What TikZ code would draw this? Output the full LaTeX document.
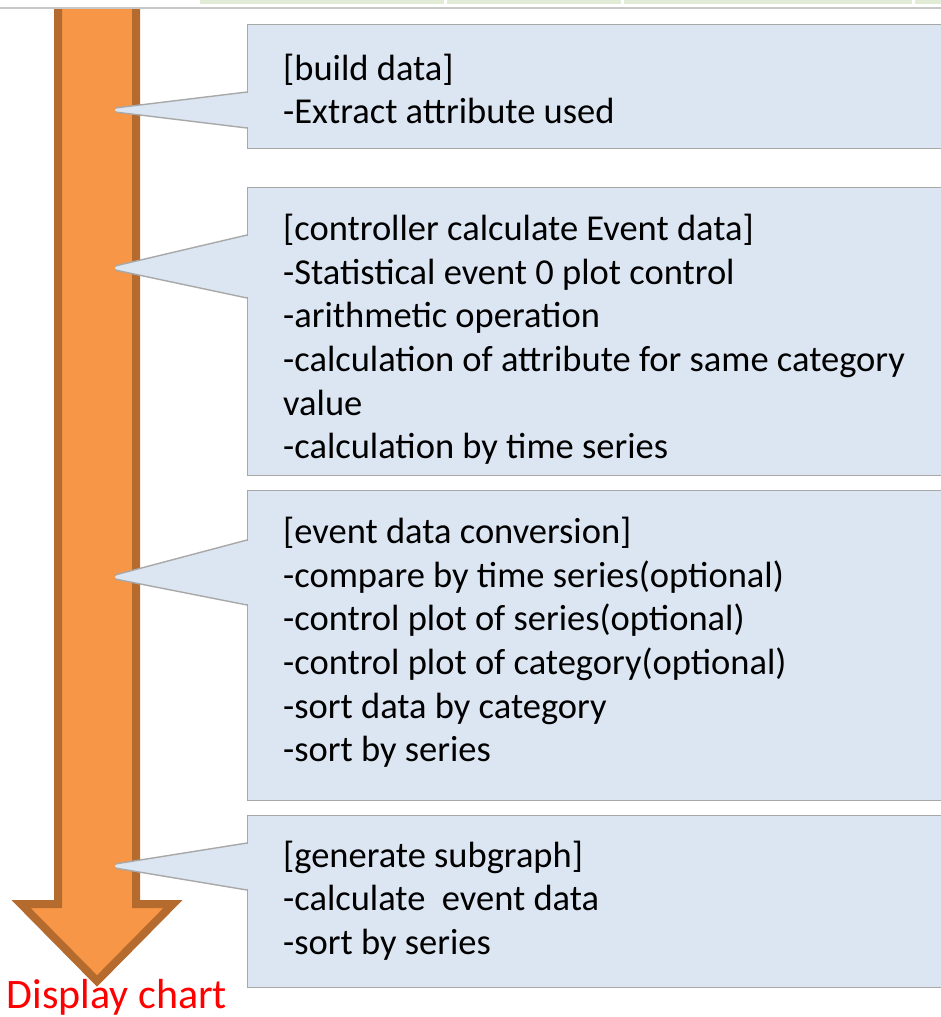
\documentclass[tikz,border=0pt]{standalone}
\usepackage{fontspec}
\setmainfont{Carlito}
\usetikzlibrary{calc}
\definecolor{boxfill}{HTML}{DCE6F2}
\definecolor{boxline}{HTML}{A8A8A8}
\definecolor{arrowfill}{HTML}{F79646}
\definecolor{arrowline}{HTML}{B56A2E}
\definecolor{bandgreen}{HTML}{E2EBD5}
\definecolor{rulegrey}{HTML}{C8C8C8}
\begin{document}
\begin{tikzpicture}[x=1pt,y=-1pt,
  note/.style={fill=boxfill, draw=boxline, line width=1.4pt, anchor=north west,
    minimum width=720pt, inner sep=0pt},
  notetext/.style={anchor=west, align=left, inner sep=0pt, text=black,
    font=\fontsize{36.5}{43.6}\selectfont},
  band/.style={fill=bandgreen},
]
\useasboundingbox (0,0) rectangle (941,1017);
\clip (0,0) rectangle (941,1017);

% header band
\fill[band] (0,0) rectangle (444,4);
\fill[band] (447,0) rectangle (621,4);
\fill[band] (624,0) rectangle (912,4);
\fill[band] (915,0) rectangle (941,4);

% process arrow
\draw[fill=arrowfill, draw=arrowline, line width=8pt, line join=miter]
  (58,-10) -- (136,-10) -- (136,904) -- (173,904) -- (97,981)
  -- (21,904) -- (58,904) -- cycle;
\fill[white] (0,0) rectangle (200,7);
\draw[rulegrey, line width=1.2pt] (0,8) -- (941,8);

% step boxes
\node[note, minimum height=124pt] (b1) at (247,24) {};
\node[note, minimum height=288pt] (b2) at (247,187) {};
\node[note, minimum height=310pt] (b3) at (247,490) {};
\node[note, minimum height=172pt] (b4) at (247,815) {};

% pointer tips on the arrow
\coordinate (p1) at (115,110);
\coordinate (p2) at (115,268);
\coordinate (p3) at (115,577);
\coordinate (p4) at (115,866);

% callout pointers from each box to the arrow
\foreach \b/\p/\u/\l in {b1/p1/68/104, b2/p2/48/111, b3/p3/50/115, b4/p4/28/75}{
  \fill[boxfill, rounded corners=3pt]
    ($(\b.north west)+(1.5,\u)$) -- ($(\p)+(0,-2)$) -- ($(\p)+(0,2)$)
    -- ($(\b.north west)+(1.5,\l)$) -- cycle;
  \draw[boxline, line width=1.4pt, line join=round]
    ($(\b.north west)+(0,\u)$) -- ($(\p)+(0,-2)$);
  \draw[boxline, line width=1.4pt, line join=round]
    ($(\p)+(0,2)$) -- ($(\b.north west)+(0,\l)$);
}

% box texts
\node[notetext] (t1) at (283,89) {[build data]\\-Extract attribute used};
\node[notetext] (t2) at (283,339.5) {[controller calculate Event data]\\
  -Statistical event 0 plot control\\-arithmetic operation\\
  -calculation of attribute for same category\\value\\
  -calculation by time series};
\node[notetext] (t3) at (283,642.5) {[event data conversion]\\
  -compare by time series(optional)\\-control plot of series(optional)\\
  -control plot of category(optional)\\-sort data by category\\-sort by series};
\node[notetext] (t4) at (283,900.5) {[generate subgraph]\\
  -calculate\ \ event data\\-sort by series};

% result label
\node[text=red, inner sep=0pt, font=\fontsize{42}{46}\selectfont] (res) at (117,997) {Display chart};
\end{tikzpicture}
\end{document}
